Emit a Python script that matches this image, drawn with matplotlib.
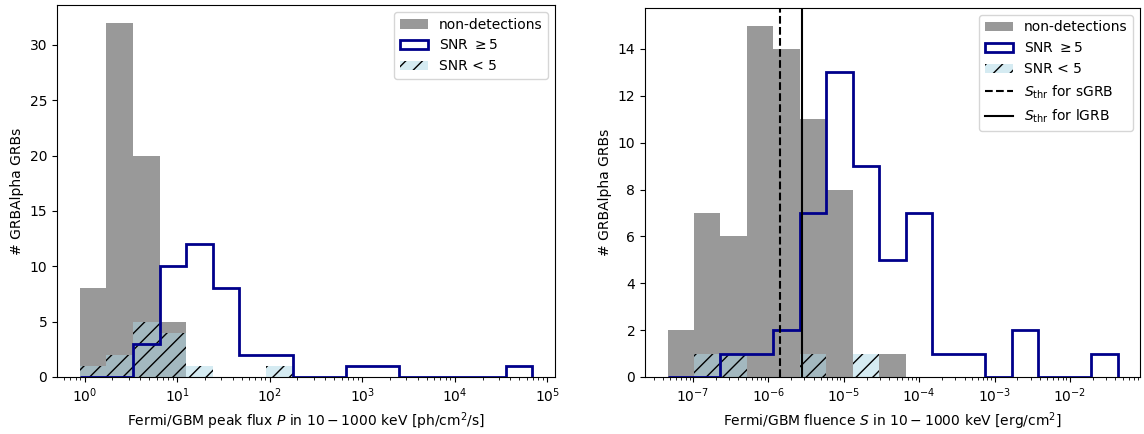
import numpy as np
import matplotlib
matplotlib.use("Agg")
import matplotlib.pyplot as plt
from matplotlib.colors import to_rgba

# bin edges (log-spaced, 17 bins)
flux_edges = np.logspace(-0.054, 4.84, 18)
fluence_edges = np.logspace(-7.34, -1.369, 18)

# peak flux histogram counts
flux_nondet = [8, 32, 20, 5, 0, 0, 0, 0, 0, 0, 0, 0, 0, 0, 0, 0, 0]
flux_snr_hi = [0, 0, 3, 10, 12, 8, 2, 2, 0, 0, 1, 1, 0, 0, 0, 0, 1]
flux_snr_lo = [1, 2, 5, 4, 1, 0, 0, 1, 0, 0, 0, 0, 0, 0, 0, 0, 0]

# fluence histogram counts
flu_nondet = [2, 7, 6, 15, 14, 11, 8, 0, 1, 0, 0, 0, 0, 0, 0, 0, 0]
flu_snr_hi = [0, 0, 1, 1, 2, 7, 13, 9, 5, 7, 1, 1, 0, 2, 0, 0, 1]
flu_snr_lo = [0, 1, 1, 0, 0, 1, 0, 1, 0, 0, 0, 0, 0, 0, 0, 0, 0]

# fluence thresholds
s_thr_short = 1.4e-6
s_thr_long = 2.75e-6


def draw_hists(ax, edges, nondet, hi, lo):
    centers = np.sqrt(edges[:-1] * edges[1:])
    ax.hist(centers, bins=edges, weights=nondet, histtype="stepfilled",
            color="gray", alpha=0.8, linewidth=0, label="non-detections",
            zorder=1)
    ax.hist(centers, bins=edges, weights=hi, histtype="step",
            color="darkblue", linewidth=2, label=r"SNR $\geq 5$", zorder=3)
    ax.hist(centers, bins=edges, weights=lo, histtype="stepfilled",
            facecolor=to_rgba("lightblue", 0.5), edgecolor="k", hatch="//",
            linewidth=0, label="SNR < 5", zorder=2)
    ax.set_xscale("log")
    ax.set_ylabel("# GRBAlpha GRBs")


fig = plt.figure(figsize=(11.44, 4.34), dpi=100)
ax1 = fig.add_axes([57 / 1144, 57 / 434, 498 / 1144, 372 / 434])
ax2 = fig.add_axes([645 / 1144, 57 / 434, 495 / 1144, 369 / 434])

draw_hists(ax1, flux_edges, flux_nondet, flux_snr_hi, flux_snr_lo)
ax1.set_xlabel(r"Fermi/GBM peak flux $P$ in $10-1000$ keV [ph/cm$^2$/s]")
ax1.legend(loc="upper right")

draw_hists(ax2, fluence_edges, flu_nondet, flu_snr_hi, flu_snr_lo)
ax2.axvline(s_thr_short, color="k", linestyle="--", zorder=4,
            label=r"$S_{\rm thr}$ for sGRB")
ax2.axvline(s_thr_long, color="k", linestyle="-", zorder=4,
            label=r"$S_{\rm thr}$ for lGRB")
ax2.set_xlabel(r"Fermi/GBM fluence $S$ in $10-1000$ keV [erg/cm$^2$]")
ax2.legend(loc="upper right")

ax1.set_ylim(0, 33.6)
ax2.set_ylim(0, 15.75)

fig.savefig("out.png", dpi=100)
